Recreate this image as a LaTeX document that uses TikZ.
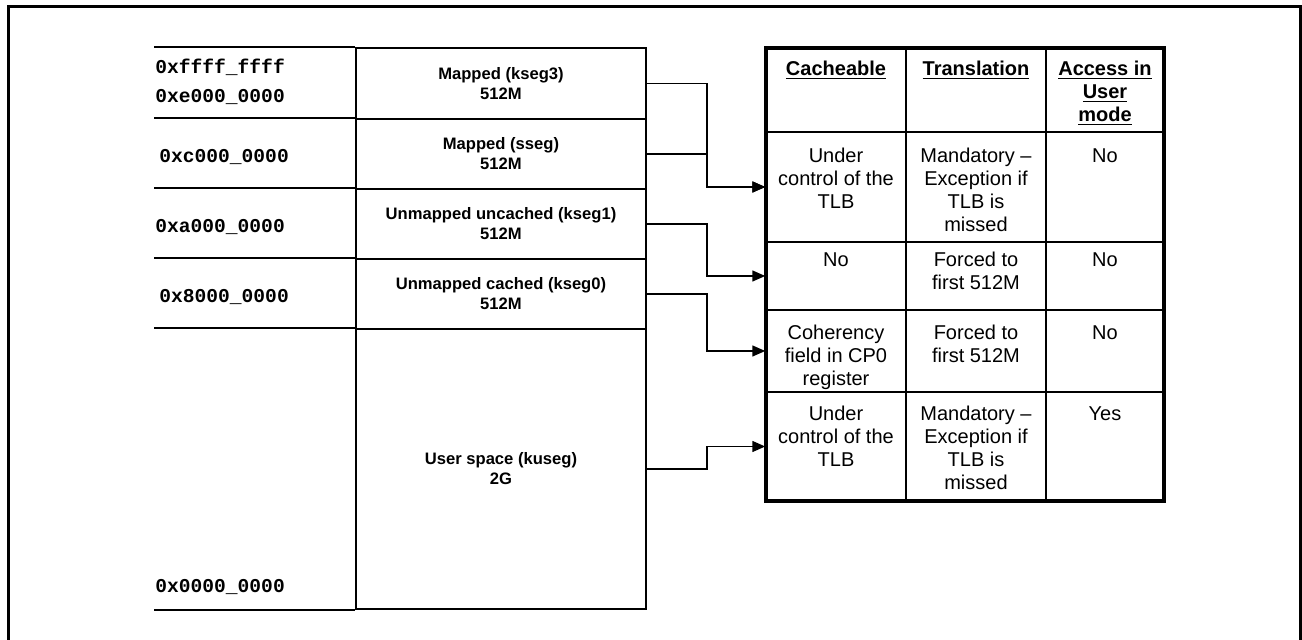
\documentclass[tikz,border=0pt]{standalone}
\usepackage{fontspec}
\setmainfont{Liberation Sans}
\setmonofont{Liberation Mono}
\usetikzlibrary{arrows.meta}
\begin{document}
\begin{tikzpicture}[x=0.5pt,y=-0.5pt,
  seg/.style={draw, line width=0.8pt, minimum width=145pt, inner sep=0pt, align=center,
              font=\fontsize{8.3}{10}\selectfont\bfseries},
  addr/.style={anchor=mid west, inner sep=0pt, font=\fontsize{9.8}{12}\selectfont\ttfamily\bfseries},
  rowbox/.style={draw, line width=0.75pt, minimum width=199pt, inner sep=0pt},
  cell/.style={anchor=north, inner sep=0pt, align=center, font=\fontsize{10}{11.5}\selectfont},
  head/.style={anchor=north, inner sep=0pt, align=center, font=\fontsize{10}{11.5}\selectfont\bfseries},
  conn/.style={line width=0.75pt, -{Triangle[length=6.5pt,width=5.5pt]}},
  rule/.style={line width=0.8pt}
]
\clip (0,0) rectangle (1302,640);
\fill[white] (0,0) rectangle (1302,640);
% outer frame
\draw[line width=1.5pt] (8.5,6.5) rectangle (1300.5,700);

% memory segments
\node[seg, minimum height=35.5pt] (kseg3) at (501,83.5) {Mapped (kseg3)\\512M};
\node[seg, minimum height=35pt] (sseg) at (501,154) {Mapped (sseg)\\512M};
\node[seg, minimum height=35pt] (kseg1) at (501,224) {Unmapped uncached (kseg1)\\512M};
\node[seg, minimum height=35pt] (kseg0) at (501,294) {Unmapped cached (kseg0)\\512M};
\node[seg, minimum height=140pt] (kuseg) at (501,469) {User space (kuseg)\\2G};

% address column rules
\draw[rule] (kseg3.north west) -- ++(-201,0);
\draw[rule] (sseg.north west) -- ++(-201,0);
\draw[rule] (kseg1.north west) -- ++(-201,0);
\draw[rule] (kseg0.north west) -- ++(-201,0);
\draw[rule] (kuseg.north west) -- ++(-201,0);
\draw[rule] (kuseg.south west) -- ++(-201,0);

% addresses
\node[addr] (aF) at (155,68) {0xffff\_ffff};
\node[addr] (aE) at (155,97) {0xe000\_0000};
\node[addr] (aC) at (159,157) {0xc000\_0000};
\node[addr] (aA) at (155,227) {0xa000\_0000};
\node[addr] (a8) at (159,297) {0x8000\_0000};
\node[addr] (a0) at (155,587) {0x0000\_0000};

% table rows
\node[rowbox, minimum height=41.75pt] (hdr) at (965,90.25) {};
\node[rowbox, minimum height=55pt] (row1) at (965,187) {};
\node[rowbox, minimum height=34pt] (row2) at (965,276) {};
\node[rowbox, minimum height=41pt] (row3) at (965,351) {};
\node[rowbox, minimum height=54.5pt] (row4) at (965,446.5) {};
\draw[line width=0.75pt] (906,48.5) -- (906,501);
\draw[line width=0.75pt] (1046,48.5) -- (1046,501);
\draw[line width=2pt] (766,48.5) rectangle (1164,501);

% header
\node[head] (h1) at (836,61) {\underline{Cacheable}};
\node[head] (h2) at (976,61) {\underline{Translation}};
\node[head] (h3) at (1105,61) {\underline{Access in}\\\underline{User}\\\underline{mode}};

% row 1
\node[cell] (c11) at (836,148) {Under\\control of the\\TLB};
\node[cell] (c12) at (976,148) {Mandatory --\\Exception if\\TLB is\\missed};
\node[cell] (c13) at (1105,148) {No};
% row 2
\node[cell] (c21) at (836,252) {No};
\node[cell] (c22) at (976,252) {Forced to\\first 512M};
\node[cell] (c23) at (1105,252) {No};
% row 3
\node[cell] (c31) at (836,325) {Coherency\\field in CP0\\register};
\node[cell] (c32) at (976,325) {Forced to\\first 512M};
\node[cell] (c33) at (1105,325) {No};
% row 4
\node[cell] (c41) at (836,406) {Under\\control of the\\TLB};
\node[cell] (c42) at (976,406) {Mandatory --\\Exception if\\TLB is\\missed};
\node[cell] (c43) at (1105,406) {Yes};

% connectors
\draw[conn] (kseg3.east) -- ++(60,0) |- (row1.west);
\draw[conn] (sseg.east) -- ++(60,0) |- (row1.west);
\draw[conn] (kseg1.east) -- ++(60,0) |- (row2.west);
\draw[conn] (kseg0.east) -- ++(60,0) |- (row3.west);
\draw[conn] (kuseg.east) -- ++(60,0) |- (row4.west);
\end{tikzpicture}
\end{document}
